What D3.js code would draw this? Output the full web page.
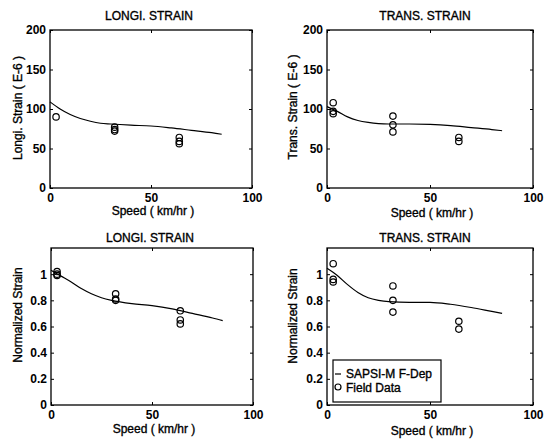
<!DOCTYPE html>
<html>
<head>
<meta charset="utf-8">
<script src="https://cdn.jsdelivr.net/npm/d3@7"></script>
<style>
  body { margin: 0; background: #fff; }
  svg { display: block; font-family: "Liberation Sans", Arial, Helvetica, sans-serif; }
  .tick text { font-weight: bold; font-size: 12px; fill: #000; }
  .tick line { stroke: #000; }
  .lbl { fill: #000; stroke: #000; stroke-width: 0.35; }
</style>
</head>
<body>
<svg id="chart" width="552" height="441"></svg>
<script>
// model curve sample speeds (km/hr)
const modelSpeeds = [0, 5, 10, 15, 20, 25, 30, 40, 50, 60, 70, 80, 85]

// SAPSI-M F-Dep model
const longStrainModel = [109, 100, 93, 88, 84.5, 82, 81, 79.5, 78.5, 76, 73, 70, 68]
const transStrainModel = [103, 97, 90, 85.5, 83, 81.5, 81, 81, 80.5, 79, 76.5, 74, 72.5]
const longNormModel = [1.03, 0.985, 0.94, 0.89, 0.85, 0.82, 0.8, 0.775, 0.76, 0.735, 0.7, 0.665, 0.645]
const transNormModel = [1.045, 0.99, 0.92, 0.86, 0.82, 0.8, 0.79, 0.785, 0.785, 0.77, 0.745, 0.715, 0.7]

// field data [speed, value]
const longStrainField = [[3, 90], [32, 77], [32, 74], [32, 72], [64, 64], [64, 59], [64, 56]]
const transStrainField = [[3, 108], [3, 97], [3, 94], [32, 91], [32, 80], [32, 71], [64, 64], [64, 59]]
const longNormField = [[3, 1.02], [3, 1.0], [3, 0.99], [32, 0.85], [32, 0.81], [32, 0.8], [64, 0.72], [64, 0.65], [64, 0.62]]
const transNormField = [[3, 1.08], [3, 0.96], [3, 0.94], [32, 0.91], [32, 0.8], [32, 0.71], [64, 0.64], [64, 0.58]]

const speedTicks = [0, 50, 100]
const strainTicks = [0, 50, 100, 150, 200]
const normTicks = [0, 0.2, 0.4, 0.6, 0.8, 1]

const legendLabels = ['SAPSI-M F-Dep', 'Field Data']

const panels = [
  {title: 'LONGI. STRAIN', ylabel: 'Longi. Strain ( E-6 )', model: longStrainModel, field: longStrainField,
   yDomain: [0, 200], yTicks: strainTicks, box: {x0: 50, x1: 252, y0: 30, y1: 188},
   titleX: 149, titleY: 20, xlabY: 215, ylabX: 22, ylabY: 108},
  {title: 'TRANS. STRAIN', ylabel: 'Trans. Strain ( E-6 )', model: transStrainModel, field: transStrainField,
   yDomain: [0, 200], yTicks: strainTicks, box: {x0: 327, x1: 533, y0: 30, y1: 188},
   titleX: 425, titleY: 20, xlabY: 217, ylabX: 297, ylabY: 107},
  {title: 'LONGI. STRAIN', ylabel: 'Normalized Strain', model: longNormModel, field: longNormField,
   yDomain: [0, 1.2], yTicks: normTicks, box: {x0: 51, x1: 253, y0: 248, y1: 405},
   titleX: 150, titleY: 242, xlabY: 433, ylabX: 22, ylabY: 315},
  {title: 'TRANS. STRAIN', ylabel: 'Normalized Strain', model: transNormModel, field: transNormField,
   yDomain: [0, 1.2], yTicks: normTicks, box: {x0: 327, x1: 533, y0: 248, y1: 405},
   titleX: 425, titleY: 242, xlabY: 435, ylabX: 297, ylabY: 316, legend: true},
]

const svg = d3.select('#chart')
const fmt = d => String(+d.toFixed(1))

panels.forEach(p => {
  const b = p.box
  const x = d3.scaleLinear().domain([0, 100]).range([b.x0, b.x1])
  const y = d3.scaleLinear().domain(p.yDomain).range([b.y1, b.y0])
  const g = svg.append('g')

  // axes with inward ticks on all four sides
  g.append('g').attr('transform', `translate(0,${b.y1})`)
    .call(d3.axisBottom(x).tickValues(speedTicks).tickSize(-3).tickPadding(5).tickFormat(fmt))
  g.append('g').attr('transform', `translate(${b.x0},0)`)
    .call(d3.axisLeft(y).tickValues(p.yTicks).tickSize(-3).tickPadding(4).tickFormat(fmt))
  g.append('g').attr('transform', `translate(0,${b.y0})`)
    .call(d3.axisTop(x).tickValues(speedTicks).tickSize(-3).tickFormat(''))
  g.append('g').attr('transform', `translate(${b.x1},0)`)
    .call(d3.axisRight(y).tickValues(p.yTicks).tickSize(-3).tickFormat(''))
  g.selectAll('.domain').remove()

  g.append('rect')
    .attr('x', b.x0).attr('y', b.y0)
    .attr('width', b.x1 - b.x0).attr('height', b.y1 - b.y0)
    .attr('fill', 'none').attr('stroke', '#000').attr('stroke-width', 1.3)

  const line = d3.line()
    .x((d, i) => x(modelSpeeds[i]))
    .y(d => y(d))
    .curve(d3.curveMonotoneX)
  g.append('path').datum(p.model)
    .attr('d', line)
    .attr('fill', 'none').attr('stroke', '#000').attr('stroke-width', 1.2)

  g.selectAll('circle.field').data(p.field).join('circle')
    .attr('class', 'field')
    .attr('cx', d => x(d[0])).attr('cy', d => y(d[1]))
    .attr('r', 3.2)
    .attr('fill', 'none').attr('stroke', '#000').attr('stroke-width', 1.2)

  g.append('text').text(p.title).attr('class', 'lbl')
    .attr('x', p.titleX).attr('y', p.titleY)
    .attr('text-anchor', 'middle').attr('font-size', 12)
  g.append('text').text('Speed ( km/hr )').attr('class', 'lbl')
    .attr('x', (b.x0 + b.x1) / 2 + 2).attr('y', p.xlabY)
    .attr('text-anchor', 'middle').attr('font-size', 12)
  g.append('text').text(p.ylabel).attr('class', 'lbl')
    .attr('transform', `translate(${p.ylabX},${p.ylabY}) rotate(-90)`)
    .attr('text-anchor', 'middle').attr('font-size', 12)

  if (p.legend) {
    const lg = g.append('g')
    lg.append('rect')
      .attr('x', 333).attr('y', 360).attr('width', 108).attr('height', 42)
      .attr('fill', '#fff').attr('stroke', '#000').attr('stroke-width', 1.2)
    lg.append('line')
      .attr('x1', 335).attr('x2', 341).attr('y1', 374).attr('y2', 374)
      .attr('stroke', '#000').attr('stroke-width', 1.2)
    lg.append('circle')
      .attr('cx', 338).attr('cy', 387).attr('r', 3)
      .attr('fill', 'none').attr('stroke', '#000').attr('stroke-width', 1.2)
    lg.selectAll('text').data(legendLabels).join('text')
      .attr('class', 'lbl')
      .text(d => d)
      .attr('x', 346).attr('y', (d, i) => 378 + i * 13.5)
      .attr('font-size', 12)
  }
})
</script>
</body>
</html>
